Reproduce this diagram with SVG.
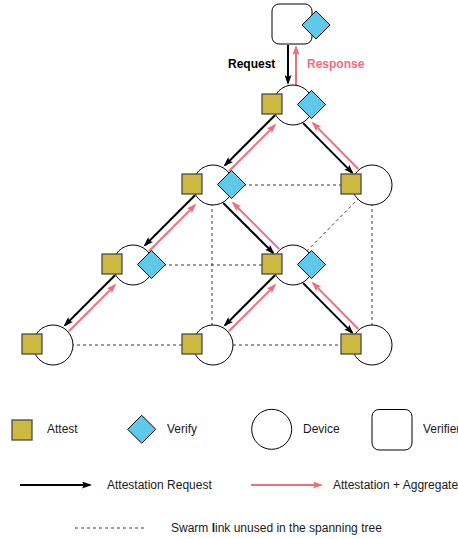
<svg xmlns="http://www.w3.org/2000/svg" width="458" height="539" viewBox="0 0 458 539">
<style>
.dev{fill:#fff;stroke:#000;stroke-width:1}
.att{fill:#cdb942;stroke:#4a4a4a;stroke-width:1.3}
.ver{fill:#5fc9ea;stroke:#000;stroke-width:1}
.vbox{fill:#fff;stroke:#000;stroke-width:1}
.req{stroke:#000;stroke-width:2;fill:none;marker-end:url(#ab)}
.rsp{stroke:#f06e7e;stroke-width:2;fill:none;marker-end:url(#ap)}
.dash{stroke:#3a3a3a;stroke-width:1;stroke-dasharray:3 3;fill:none}
text{font-family:"Liberation Sans",Arial,sans-serif;font-size:12px;fill:#1a1a1a}
.lblb{font-weight:bold;fill:#000}
.lblp{font-weight:bold;fill:#f06e7e}
</style>
<defs>
<marker id="ab" viewBox="0 0 10 7" markerWidth="10" markerHeight="7" refX="8" refY="3.5" orient="auto" markerUnits="userSpaceOnUse"><path d="M0,0 L10,3.5 L0,7 L2,3.5 z" fill="#000"/></marker>
<marker id="ap" viewBox="0 0 10 7" markerWidth="10" markerHeight="7" refX="8" refY="3.5" orient="auto" markerUnits="userSpaceOnUse"><path d="M0,0 L10,3.5 L0,7 L2,3.5 z" fill="#f06e7e"/></marker>
</defs>

<g id="connectors">
  <line class="dash" x1="213" y1="185" x2="372" y2="185"/>
  <line class="dash" x1="212" y1="185" x2="212" y2="345"/>
  <line class="dash" x1="372" y1="185" x2="372" y2="345"/>
  <line class="dash" x1="372" y1="185" x2="293" y2="265"/>
  <line class="dash" x1="133" y1="265" x2="293" y2="265"/>
  <line class="dash" x1="53" y1="345" x2="372" y2="345"/>
  <line class="req" x1="288" y1="45" x2="288" y2="83"/>
  <line class="rsp" x1="296" y1="86" x2="296" y2="47"/>
  <g transform="translate(293,105) rotate(135)">
    <line class="req" x1="20" y1="5.5" x2="90.64" y2="5.5"/>
    <line class="rsp" x1="92.14" y1="-1.5" x2="27" y2="-1.5"/>
  </g>
  <g transform="translate(293,105) rotate(45.36)">
    <line class="req" x1="20" y1="5.5" x2="89.93" y2="5.5"/>
    <line class="rsp" x1="91.43" y1="-1.5" x2="27" y2="-1.5"/>
  </g>
  <g transform="translate(213,185) rotate(135)">
    <line class="req" x1="20" y1="5.5" x2="90.64" y2="5.5"/>
    <line class="rsp" x1="92.14" y1="-1.5" x2="27" y2="-1.5"/>
  </g>
  <g transform="translate(213,185) rotate(45)">
    <line class="req" x1="20" y1="5.5" x2="90.64" y2="5.5"/>
    <line class="rsp" x1="92.14" y1="-1.5" x2="27" y2="-1.5"/>
  </g>
  <g transform="translate(133,265) rotate(135)">
    <line class="req" x1="20" y1="5.5" x2="90.64" y2="5.5"/>
    <line class="rsp" x1="92.14" y1="-1.5" x2="27" y2="-1.5"/>
  </g>
  <g transform="translate(293,265) rotate(135)">
    <line class="req" x1="20" y1="5.5" x2="90.64" y2="5.5"/>
    <line class="rsp" x1="92.14" y1="-1.5" x2="27" y2="-1.5"/>
  </g>
  <g transform="translate(293,265) rotate(45.36)">
    <line class="req" x1="20" y1="5.5" x2="89.93" y2="5.5"/>
    <line class="rsp" x1="91.43" y1="-1.5" x2="27" y2="-1.5"/>
  </g>
</g>

<g id="verifier">
  <rect class="vbox" x="272" y="4" width="40" height="40" rx="7"/>
  <polygon class="ver" points="316,11 330,25 316,39 302,25"/>
</g>
<text class="lblb" x="228" y="68">Request</text>
<text class="lblp" x="307" y="68">Response</text>

<g id="root">
  <circle class="dev" cx="293" cy="105" r="20"/>
  <rect class="att" x="262" y="94" width="20" height="20"/>
  <polygon class="ver" points="311.5,90.5 325.5,104.5 311.5,118.5 297.5,104.5"/>
</g>
<g id="n2a">
  <circle class="dev" cx="213" cy="185" r="20"/>
  <rect class="att" x="182" y="174" width="20" height="20"/>
  <polygon class="ver" points="231.5,170.5 245.5,184.5 231.5,198.5 217.5,184.5"/>
</g>
<g id="n2b">
  <circle class="dev" cx="372" cy="185" r="20"/>
  <rect class="att" x="341" y="174" width="20" height="20"/>
</g>
<g id="n3a">
  <circle class="dev" cx="133" cy="265" r="20"/>
  <rect class="att" x="102" y="254" width="20" height="20"/>
  <polygon class="ver" points="151.5,250.5 165.5,264.5 151.5,278.5 137.5,264.5"/>
</g>
<g id="n3b">
  <circle class="dev" cx="293" cy="265" r="20"/>
  <rect class="att" x="262" y="254" width="20" height="20"/>
  <polygon class="ver" points="311.5,250.5 325.5,264.5 311.5,278.5 297.5,264.5"/>
</g>
<g id="n4a">
  <circle class="dev" cx="53" cy="345" r="20"/>
  <rect class="att" x="22" y="334" width="20" height="20"/>
</g>
<g id="n4b">
  <circle class="dev" cx="213" cy="345" r="20"/>
  <rect class="att" x="182" y="334" width="20" height="20"/>
</g>
<g id="n4c">
  <circle class="dev" cx="372" cy="345" r="20"/>
  <rect class="att" x="341" y="334" width="20" height="20"/>
</g>

<g id="legend">
  <rect class="att" x="12" y="420" width="20" height="20"/>
  <text x="47" y="433">Attest</text>
  <polygon class="ver" points="141.7,415.3 155.7,429.3 141.7,443.3 127.7,429.3"/>
  <text x="167" y="433">Verify</text>
  <circle class="dev" cx="271.7" cy="429.3" r="20"/>
  <text x="303" y="433">Device</text>
  <rect class="vbox" x="372" y="409.5" width="40" height="40.5" rx="7"/>
  <text x="423" y="433">Verifier</text>
  <line class="req" x1="20" y1="485" x2="90" y2="485"/>
  <text x="107" y="489">Attestation Request</text>
  <line class="rsp" x1="251" y1="485" x2="321" y2="485"/>
  <text x="333" y="489">Attestation + Aggregate</text>
  <line class="dash" x1="75" y1="528" x2="144" y2="528"/>
  <text x="171" y="531.5">Swarm <tspan font-weight="bold">l</tspan>ink unused in the spanning tree</text>
</g>
</svg>
